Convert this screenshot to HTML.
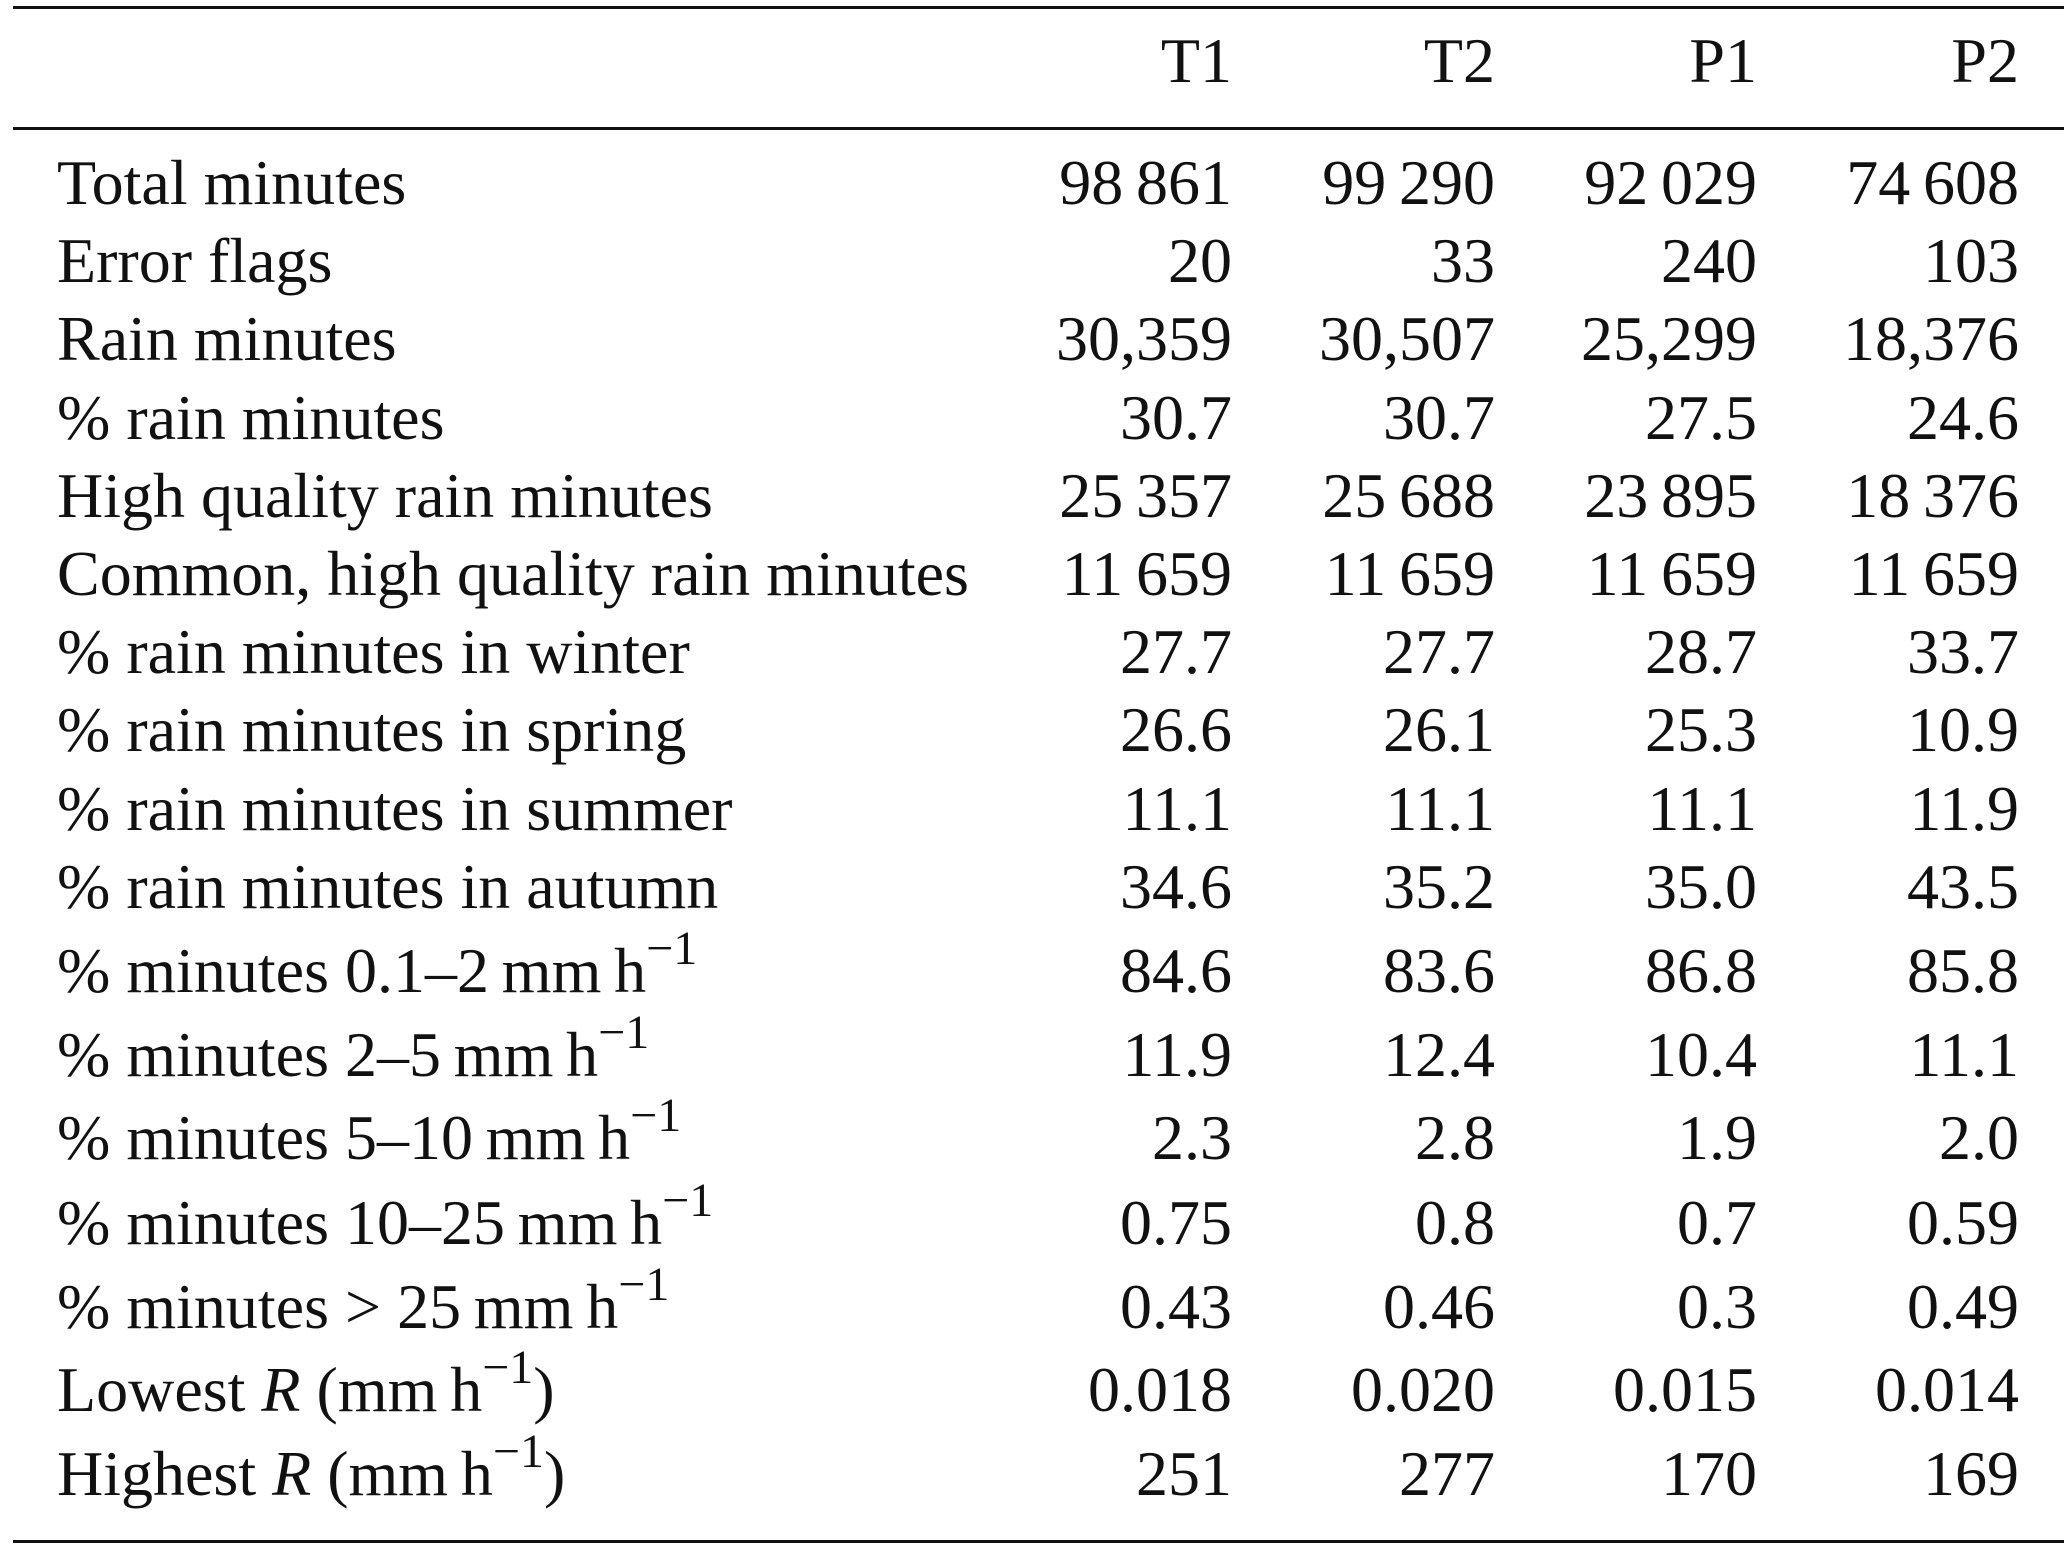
<!DOCTYPE html>
<html><head><meta charset="utf-8"><style>
html,body{margin:0;padding:0;background:#fff;}
svg{display:block;}
text{font-family:"Liberation Serif","DejaVu Serif",serif;font-size:64px;fill:#111;}
</style></head><body>
<svg id="tbl" width="2067" height="1546" viewBox="0 0 2067 1546" xmlns="http://www.w3.org/2000/svg">
<rect x="13" y="6" width="2051" height="3" fill="#111"/>
<rect x="13" y="127" width="2051" height="3" fill="#111"/>
<rect x="13" y="1540" width="2051" height="3" fill="#111"/>
<g>
<text x="1232" y="82" text-anchor="end">T1</text>
<text x="1495" y="82" text-anchor="end">T2</text>
<text x="1757" y="82" text-anchor="end">P1</text>
<text x="2019" y="82" text-anchor="end">P2</text>
</g>
<g id="body"></g>
</svg>
<script>
const rowLabels = [
 'Total minutes','Error flags','Rain minutes','% rain minutes','High quality rain minutes',
 'Common, high quality rain minutes','% rain minutes in winter','% rain minutes in spring',
 '% rain minutes in summer','% rain minutes in autumn',
 '% minutes 0.1–2\u2009mm\u2009h|','% minutes 2–5\u2009mm\u2009h|','% minutes 5–10\u2009mm\u2009h|',
 '% minutes 10–25\u2009mm\u2009h|','% minutes > 25\u2009mm\u2009h|','Lowest *R* (mm\u2009h|)','Highest *R* (mm\u2009h|)'
];
const colT1 = ['98\u2009861','20','30,359','30.7','25\u2009357','11\u2009659','27.7','26.6','11.1','34.6','84.6','11.9','2.3','0.75','0.43','0.018','251'];
const colT2 = ['99\u2009290','33','30,507','30.7','25\u2009688','11\u2009659','27.7','26.1','11.1','35.2','83.6','12.4','2.8','0.8','0.46','0.020','277'];
const colP1 = ['92\u2009029','240','25,299','27.5','23\u2009895','11\u2009659','28.7','25.3','11.1','35.0','86.8','10.4','1.9','0.7','0.3','0.015','170'];
const colP2 = ['74\u2009608','103','18,376','24.6','18\u2009376','11\u2009659','33.7','10.9','11.9','43.5','85.8','11.1','2.0','0.59','0.49','0.014','169'];
const baselines = [204,282,360,439,517,595,673,751,830,908,992,1076,1159,1244,1328,1411,1495];
const colX = [1232,1495,1757,2019];
const NS='http://www.w3.org/2000/svg';
const body=document.getElementById('body');
function addLabel(t,y){
  const el=document.createElementNS(NS,'text');
  el.setAttribute('x',57);el.setAttribute('y',y);
  
  
  let parts=t.split('|');
  const segs=parts[0].split('*');
  segs.forEach((s,i)=>{
    if(!s)return;
    const ts=document.createElementNS(NS,'tspan');
    ts.textContent=s;
    if(i%2===1)ts.setAttribute('font-style','italic');
    el.appendChild(ts);
  });
  if(parts.length>1){
    const sup=document.createElementNS(NS,'tspan');
    sup.textContent='\u22121';
    sup.setAttribute('font-size','48');
    sup.setAttribute('dy','-28');
    el.appendChild(sup);
    if(parts[1]){
      const r=document.createElementNS(NS,'tspan');
      r.textContent=parts[1];
      r.setAttribute('dy','28');
      el.appendChild(r);
    }
  }
  body.appendChild(el);
}
const cols=[colT1,colT2,colP1,colP2];
rowLabels.forEach((lab,i)=>{
  addLabel(lab,baselines[i]);
  cols.forEach((c,j)=>{
    const el=document.createElementNS(NS,'text');
    el.setAttribute('x',colX[j]);el.setAttribute('y',baselines[i]);
    el.setAttribute('text-anchor','end');
    
    
    el.textContent=c[i];
    body.appendChild(el);
  });
});
</script>
</body></html>
